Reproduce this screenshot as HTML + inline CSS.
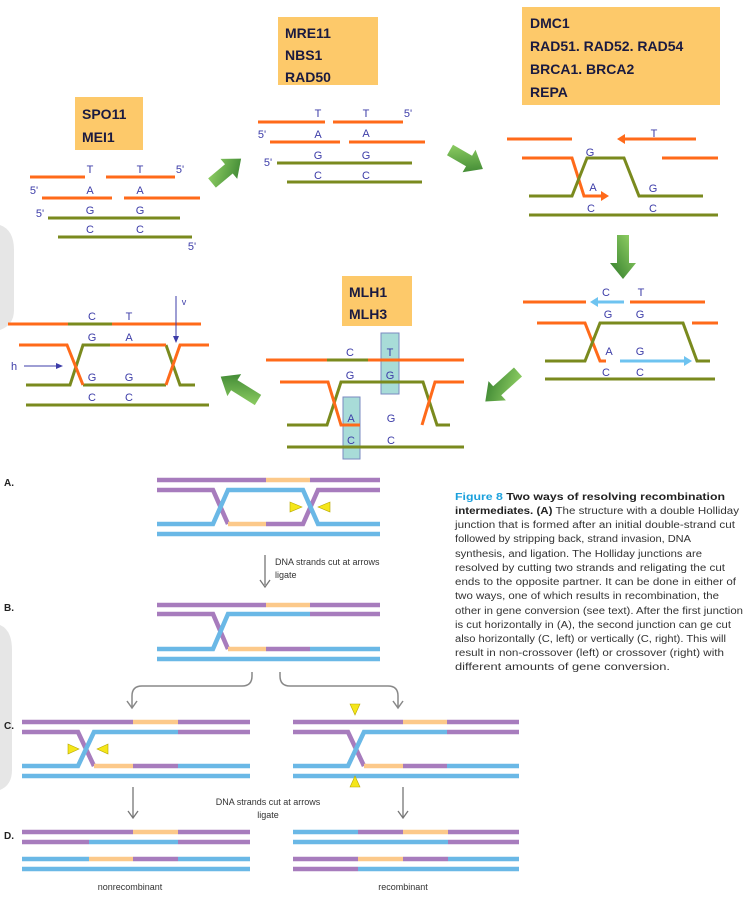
<!DOCTYPE html>
<html><head><meta charset="utf-8"><style>
html,body{margin:0;padding:0;background:#fff;}
svg{display:block}
.L{font-family:"Liberation Sans",sans-serif;font-size:11px;fill:#3c3ca8;text-anchor:middle}
.B{font-family:"Liberation Sans",sans-serif;font-size:14px;font-weight:bold;fill:#1a1a40}
.o{stroke:#ff6a1a;stroke-width:3;fill:none}
.g{stroke:#7a8a1e;stroke-width:3;fill:none}
.c{stroke:#6ec3f0;stroke-width:3;fill:none}
.p{stroke:#a77cbd;stroke-width:4.5;fill:none}
.b{stroke:#6ab8e6;stroke-width:4.5;fill:none}
.y{stroke:#fcc98a;stroke-width:4.5;fill:none}
.t{font-family:"Liberation Sans",sans-serif;font-size:9px;fill:#333}
.cap{font-family:"Liberation Sans",sans-serif;font-size:10px;fill:#333}
</style></head><body>
<svg width="745" height="901" viewBox="0 0 745 901" xmlns="http://www.w3.org/2000/svg">
<defs>
<linearGradient id="ga" x1="0" y1="0" x2="1" y2="1"><stop offset="0" stop-color="#9ad86a"/><stop offset="1" stop-color="#2f7a2a"/></linearGradient>
</defs>
<path d="M0 225 Q14 230 14 250 L14 310 Q14 325 0 330 Z" fill="#e6e6e6"/>
<path d="M0 625 Q12 630 12 650 L12 770 Q12 785 0 790 Z" fill="#e6e6e6"/>

<rect x="75" y="97" width="68" height="53" fill="#fdc96a"/>
<text class="B" x="82" y="119">SPO11</text><text class="B" x="82" y="142">MEI1</text>
<rect x="278" y="17" width="100" height="68" fill="#fdc96a"/>
<text class="B" x="285" y="38">MRE11</text><text class="B" x="285" y="60">NBS1</text><text class="B" x="285" y="82">RAD50</text>
<rect x="522" y="7" width="198" height="98" fill="#fdc96a"/>
<text class="B" x="530" y="28">DMC1</text><text class="B" x="530" y="51">RAD51. RAD52. RAD54</text><text class="B" x="530" y="74">BRCA1. BRCA2</text><text class="B" x="530" y="97">REPA</text>
<rect x="342" y="276" width="70" height="50" fill="#fdc96a"/>
<text class="B" x="349" y="297">MLH1</text><text class="B" x="349" y="319">MLH3</text>

<path class="o" d="M30 177H85M106 177H175M42 198H112M124 198H200"/>
<path class="g" d="M48 218H180M58 237H192"/>
<g class="L"><text x="90" y="173">T</text><text x="140" y="173">T</text><text x="180" y="173">5'</text>
<text x="90" y="194">A</text><text x="140" y="194">A</text><text x="34" y="194">5'</text>
<text x="90" y="214">G</text><text x="140" y="214">G</text><text x="40" y="217">5'</text>
<text x="90" y="233">C</text><text x="140" y="233">C</text><text x="192" y="250">5'</text></g>

<path class="o" d="M258 122H325M333 122H403M270 142H340M349 142H425"/>
<path class="g" d="M277 163H412M287 182H422"/>
<g class="L"><text x="318" y="117">T</text><text x="366" y="117">T</text><text x="408" y="117">5'</text>
<text x="318" y="138">A</text><text x="366" y="137">A</text><text x="262" y="138">5'</text>
<text x="318" y="159">G</text><text x="366" y="159">G</text><text x="268" y="166">5'</text>
<text x="318" y="179">C</text><text x="366" y="179">C</text></g>

<path class="o" d="M507 139H572M624 139H696M662 158H718"/>
<path d="M617 139l8-5v10z" fill="#ff6a1a"/>
<path class="o" d="M522 158H572L584 196H602"/>
<path d="M609 196l-8-5v10z" fill="#ff6a1a"/>
<path class="g" d="M529 196H572L587 158H624L639 196H703M529 215H718"/>
<g class="L"><text x="654" y="137">T</text><text x="590" y="156">G</text><text x="593" y="191">A</text><text x="653" y="192">G</text>
<text x="591" y="212">C</text><text x="653" y="212">C</text></g>

<path class="o" d="M523 302H586M630 302H705M692 323H718M537 323H585L600 361H606"/>
<path class="c" d="M594 302H624M620 361H688"/><path d="M590 302l8-5v10z" fill="#6ec3f0"/><path d="M692 361l-8-5v10z" fill="#6ec3f0"/>
<path class="g" d="M545 361H585L600 323H683L697 361H710M545 379H715"/>
<g class="L"><text x="606" y="296">C</text><text x="641" y="296">T</text><text x="608" y="318">G</text><text x="640" y="318">G</text>
<text x="609" y="355">A</text><text x="640" y="355">G</text><text x="606" y="376">C</text><text x="640" y="376">C</text></g>

<rect x="381" y="333" width="18" height="61" fill="#a8dcd8" stroke="#7a8ac0"/>
<rect x="343" y="397" width="17" height="62" fill="#a8dcd8" stroke="#7a8ac0"/>
<path class="o" d="M266 360H464"/><path class="g" d="M327 360H368"/>
<path class="g" d="M287 425H327L341 382H423L437 425H450M287 447H464"/>
<path class="o" d="M280 382H328L341 425H360M422 425L435 382H464"/>
<g class="L"><text x="350" y="356">C</text><text x="390" y="356">T</text><text x="350" y="379">G</text><text x="390" y="379">G</text>
<text x="351" y="422">A</text><text x="391" y="422">G</text><text x="351" y="444">C</text><text x="391" y="444">C</text></g>

<path class="o" d="M8 324H201"/><path class="g" d="M68 324H112"/>
<path class="g" d="M26 385H70L83 345H110M83 385H166M166 345L180 385H195M26 405H209"/>
<path class="o" d="M19 345H67L83 385M110 345H166M166 385L180 345H209"/>
<g class="L"><text x="92" y="320">C</text><text x="129" y="320">T</text><text x="92" y="341">G</text><text x="129" y="341">A</text>
<text x="92" y="381">G</text><text x="129" y="381">G</text><text x="92" y="401">C</text><text x="129" y="401">C</text>
<text x="184" y="305" font-size="9">v</text><text x="14" y="370">h</text></g>
<path d="M176 296V338" stroke="#3c3ca8" stroke-width="1"/><path d="M176 343l-3-7h6z" fill="#3c3ca8"/>
<path d="M24 366H58" stroke="#3c3ca8" stroke-width="1"/><path d="M63 366l-7-3v6z" fill="#3c3ca8"/>

<path d="M0 -6H22V-13L38 0L22 13V6H0Z" fill="url(#ga)" transform="translate(212,183) rotate(-40)"/>
<path d="M0 -6H22V-13L38 0L22 13V6H0Z" fill="url(#ga)" transform="translate(450,150) rotate(30)"/>
<path d="M0 -6H28V-13L44 0L28 13V6H0Z" fill="url(#ga)" transform="translate(623,235) rotate(90)"/>
<path d="M0 -6H28V-13L44 0L28 13V6H0Z" fill="url(#ga)" transform="translate(518,372) rotate(138)"/>
<path d="M0 -6H28V-13L44 0L28 13V6H0Z" fill="url(#ga)" transform="translate(258,400) rotate(-148)"/>

<g font-family="Liberation Sans,sans-serif" font-size="10" font-weight="bold" fill="#222">
<text x="4" y="486">A.</text><text x="4" y="611">B.</text><text x="4" y="729">C.</text><text x="4" y="839">D.</text></g>

<!-- A -->
<path class="p" d="M157 480H266M310 480H380M157 490H213L228 524M266 524H303L318 490H380"/><path class="y" d="M266 480H310M228 524H266"/>
<path class="b" d="M157 524H213L228 490H303L318 524H380M157 534H380"/>
<path d="M290 502l12 5-12 5z" fill="#f5e61a" stroke="#b8a800" stroke-width=".6"/><path d="M330 502l-12 5 12 5z" fill="#f5e61a" stroke="#b8a800" stroke-width=".6"/>
<path d="M265 555V585" stroke="#777" stroke-width="1.3"/><path d="M260 580l5 7 5-7" stroke="#777" stroke-width="1.3" fill="none"/>
<text class="t" x="275" y="565">DNA strands cut at arrows</text><text class="t" x="275" y="578">ligate</text>

<!-- B -->
<path class="p" d="M157 605H266M310 605H380M310 614H380M157 614H213L228 649M266 649H310"/><path class="y" d="M266 605H310M228 649H266"/>
<path class="b" d="M157 649H213L228 614H310M310 649H380M157 659H380"/>
<path d="M252 672V676Q252 686 242 686H142Q132 686 132 696V707M127 701l5 7 5-7M280 672V676Q280 686 290 686H388Q398 686 398 696V707M393 701l5 7 5-7" stroke="#888" stroke-width="1.5" fill="none"/>

<!-- C -->
<path class="p" d="M22 722H133M178 722H250M178 732H250M22 732H78L94 766M133 766H178"/><path class="y" d="M133 722H178M94 766H133"/>
<path class="b" d="M22 766H78L94 732H178M178 766H250M22 776H250"/>
<path d="M68 744l11 5-11 5z" fill="#f5e61a" stroke="#b8a800" stroke-width=".6"/><path d="M108 744l-11 5 11 5z" fill="#f5e61a" stroke="#b8a800" stroke-width=".6"/>
<path class="p" d="M293 722H403M447 722H519M447 732H519M293 732H348L364 766M403 766H447"/><path class="y" d="M403 722H447M364 766H403"/>
<path class="b" d="M293 766H348L364 732H447M447 766H519M293 776H519"/>
<path d="M350 704l5 11 5-11z" fill="#f5e61a" stroke="#b8a800" stroke-width=".6"/><path d="M350 787l5-11 5 11z" fill="#f5e61a" stroke="#b8a800" stroke-width=".6"/>
<path d="M133 787V817M128 811l5 7 5-7M403 787V817M398 811l5 7 5-7" stroke="#777" stroke-width="1.3" fill="none"/>
<text class="t" x="268" y="805" text-anchor="middle">DNA strands cut at arrows</text><text class="t" x="268" y="818" text-anchor="middle">ligate</text>

<!-- D -->
<path class="p" d="M22 832H133M178 832H250M22 842H89M178 842H250M133 859H178"/><path class="y" d="M133 832H178M89 859H133"/>
<path class="b" d="M89 842H178M22 859H89M178 859H250M22 869H250"/>
<path class="b" d="M293 832H358M293 842H448M448 859H519M358 869H519"/>
<path class="p" d="M358 832H403M448 832H519M448 842H519M293 859H358M403 859H448M293 869H358"/><path class="y" d="M403 832H448M358 859H403"/>
<text class="t" x="130" y="890" text-anchor="middle">nonrecombinant</text><text class="t" x="403" y="890" text-anchor="middle">recombinant</text>

<g class="cap">
<text x="455" y="500" textLength="270" lengthAdjust="spacingAndGlyphs"><tspan fill="#1aa0dc" font-weight="bold">Figure 8</tspan><tspan font-weight="bold" fill="#222"> Two ways of resolving recombination</tspan></text>
<text x="455" y="514" textLength="284" lengthAdjust="spacingAndGlyphs"><tspan font-weight="bold" fill="#222">intermediates. (A)</tspan> The structure with a double Holliday</text>
<text x="455" y="528" textLength="280" lengthAdjust="spacingAndGlyphs">junction that is formed after an initial double-strand cut</text>
<text x="455" y="542" textLength="236" lengthAdjust="spacingAndGlyphs">followed by stripping back, strand invasion, DNA</text>
<text x="455" y="557" textLength="247" lengthAdjust="spacingAndGlyphs">synthesis, and ligation. The Holliday junctions are</text>
<text x="455" y="571" textLength="270" lengthAdjust="spacingAndGlyphs">resolved by cutting two strands and religating the cut</text>
<text x="455" y="585" textLength="281" lengthAdjust="spacingAndGlyphs">ends to the opposite partner. It can be done in either of</text>
<text x="455" y="599" textLength="264" lengthAdjust="spacingAndGlyphs">two ways, one of which results in recombination, the</text>
<text x="455" y="614" textLength="288" lengthAdjust="spacingAndGlyphs">other in gene conversion (see text). After the first junction</text>
<text x="455" y="628" textLength="276" lengthAdjust="spacingAndGlyphs">is cut horizontally in (A), the second junction can ge cut</text>
<text x="455" y="642" textLength="271" lengthAdjust="spacingAndGlyphs">also horizontally (C, left) or vertically (C, right). This will</text>
<text x="455" y="656" textLength="269" lengthAdjust="spacingAndGlyphs">result in non-crossover (left) or crossover (right) with</text>
<text x="455" y="670" textLength="215" lengthAdjust="spacingAndGlyphs">different amounts of gene conversion.</text>
</g>
</svg>
</body></html>
